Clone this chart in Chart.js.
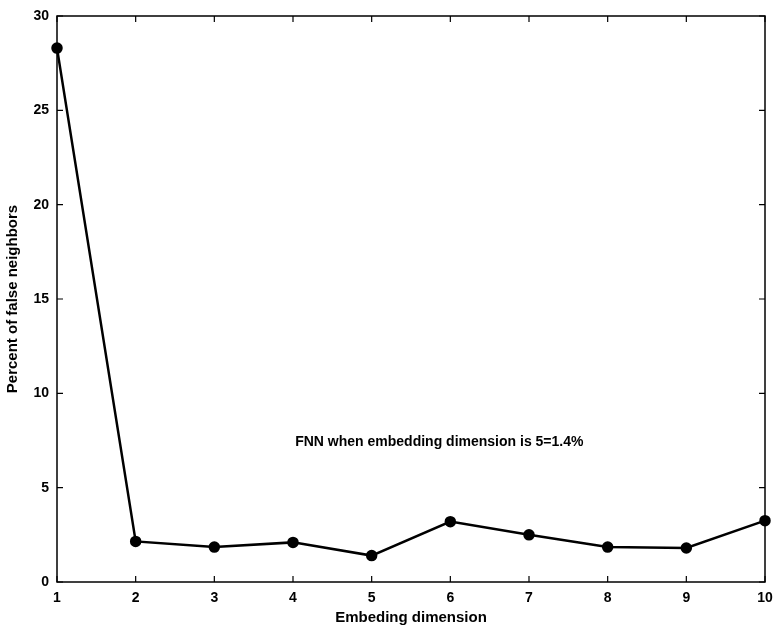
<!DOCTYPE html>
<html>
<head>
<meta charset="utf-8">
<script src="https://cdn.jsdelivr.net/npm/chart.js@4"></script>
<style>
  html, body { margin: 0; padding: 0; background: #fff; }
  #wrap { width: 777px; height: 631px; }
</style>
</head>
<body>
<div id="wrap"><canvas id="fnnChart" width="777" height="631"></canvas></div>
<script>
// embedding dimension vs percent of false nearest neighbours
const dims = [1, 2, 3, 4, 5, 6, 7, 8, 9, 10];
const fnnPercent = [28.3, 2.15, 1.85, 2.1, 1.4, 3.2, 2.5, 1.85, 1.8, 3.25];
const yTicks = [0, 5, 10, 15, 20, 25, 30];
const noteText = 'FNN when embedding dimension is 5=1.4%';
const notePos = { x: 5.86, y: 7.4 };

const FONT = "'Liberation Sans', Arial, sans-serif";

// box around plot + inward tick marks, matlab style
const boxPlugin = {
  id: 'box',
  afterDatasetsDraw(chart) {
    const { ctx, chartArea: a, scales } = chart;
    ctx.save();
    ctx.strokeStyle = '#000';
    ctx.lineWidth = 1.5;
    ctx.strokeRect(a.left, a.top, a.right - a.left, a.bottom - a.top);
    ctx.lineWidth = 1.2;
    ctx.beginPath();
    scales.x.ticks.forEach(t => {
      const px = scales.x.getPixelForValue(t.value);
      ctx.moveTo(px, a.bottom); ctx.lineTo(px, a.bottom - 6);
      ctx.moveTo(px, a.top); ctx.lineTo(px, a.top + 6);
    });
    scales.y.ticks.forEach(t => {
      const py = scales.y.getPixelForValue(t.value);
      ctx.moveTo(a.left, py); ctx.lineTo(a.left + 6, py);
      ctx.moveTo(a.right, py); ctx.lineTo(a.right - 6, py);
    });
    ctx.stroke();

    // annotation
    ctx.fillStyle = '#000';
    ctx.font = 'bold 14px ' + FONT;
    ctx.textAlign = 'center';
    ctx.textBaseline = 'middle';
    ctx.fillText(noteText, scales.x.getPixelForValue(notePos.x), scales.y.getPixelForValue(notePos.y));
    ctx.restore();
  }
};

new Chart(document.getElementById('fnnChart'), {
  type: 'line',
  data: {
    datasets: [{
      data: dims.map((d, i) => ({ x: d, y: fnnPercent[i] })),
      borderColor: '#000',
      backgroundColor: '#000',
      borderWidth: 2.5,
      pointRadius: 4.5,
      pointHoverRadius: 4.5,
      tension: 0,
      clip: false
    }]
  },
  options: {
    responsive: false,
    animation: false,
    events: [],
    layout: { padding: { top: 16, right: 12, left: 0, bottom: 0 } },
    plugins: { legend: { display: false }, tooltip: { enabled: false } },
    scales: {
      x: {
        type: 'linear',
        min: 1, max: 10,
        afterFit(s) { s.height = 49; s.paddingLeft = 0; s.paddingRight = 0; },
        afterBuildTicks(s) { s.ticks = dims.map(v => ({ value: v })); },
        grid: { display: false, drawTicks: false },
        border: { display: false },
        ticks: { color: '#000', padding: 8, font: { family: FONT, size: 14, weight: 'bold' } },
        title: { display: true, text: 'Embeding dimension', color: '#000', padding: { top: 0 },
                 font: { family: FONT, size: 15, weight: 'bold' } }
      },
      y: {
        type: 'linear',
        min: 0, max: 30,
        afterFit(s) { s.width = 57; s.paddingTop = 0; s.paddingBottom = 0; },
        afterBuildTicks(s) { s.ticks = yTicks.map(v => ({ value: v })); },
        grid: { display: false, drawTicks: false },
        border: { display: false },
        ticks: { color: '#000', padding: 8, font: { family: FONT, size: 14, weight: 'bold' } },
        title: { display: true, text: 'Percent of false neighbors', color: '#000', padding: { top: 4, bottom: 0 },
                 font: { family: FONT, size: 15, weight: 'bold' } }
      }
    }
  },
  plugins: [boxPlugin]
});
</script>
</body>
</html>
